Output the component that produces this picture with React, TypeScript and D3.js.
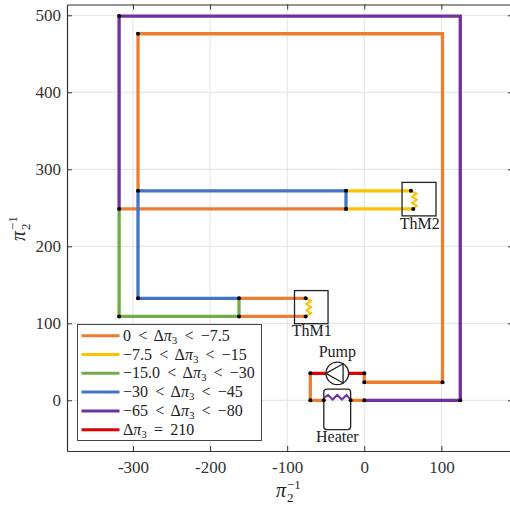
import React, { useRef, useEffect } from 'react'
import { select, scaleLinear, line, axisBottom, axisLeft, axisTop, axisRight } from 'd3'

const SERIF = '"Liberation Serif", serif'

const xTicks = [-300, -200, -100, 0, 100]
const yTicks = [0, 100, 200, 300, 400, 500]

const seriesColors = ['#ED7D31', '#FFC000', '#70AD47', '#4472C4', '#7030A0', '#E00000']

// pipe runs in chart values [x, y]
const orangeRuns = [
  [[-293.5, 272], [-293.5, 476], [101.5, 476], [101.5, 23.5], [0, 23.5], [0, 35]],
  [[-318, 248.5], [-23.7, 248.5]],
  [[-162.5, 132.5], [-76, 132.5]],
  [[-162.5, 109], [-76, 109]],
  [[-70, 35], [-70, 0], [-52.5, 0]],
  [[-17.7, 0], [0, 0]],
]
const yellowRuns = [
  [[-23.7, 272], [60.5, 272]],
  [[-23.7, 248.5], [63.5, 248.5]],
]
const greenRuns = [
  [[-318, 248.5], [-318, 109], [-162.5, 109], [-162.5, 132.5]],
]
const blueRuns = [
  [[-293.5, 272], [-293.5, 132.5], [-162.5, 132.5]],
  [[-293.5, 272], [-23.7, 272], [-23.7, 248.5]],
]
const purpleRuns = [
  [[-318, 248.5], [-318, 499], [124.5, 499], [124.5, 0], [0, 0]],
]
const redRuns = [
  [[-70, 35], [-50, 35]],
  [[-20, 35], [0, 35]],
]
const allRuns = [orangeRuns, yellowRuns, greenRuns, blueRuns, purpleRuns, redRuns]

const junctions = [
  [-318, 499], [-293.5, 476], [-293.5, 272], [-23.7, 272], [-23.7, 248.5], [-318, 248.5],
  [60.5, 272], [63.5, 248.5], [-293.5, 132.5], [-162.5, 132.5], [-162.5, 109], [-318, 109],
  [-76, 132.5], [-76, 109], [-70, 35], [-70, 0], [-52.5, 0], [-17.7, 0], [0, 0], [0, 23.5],
  [0, 35], [101.5, 23.5], [124.5, 0],
]

// schematic parts
const thm1Box = { x0: -90.5, x1: -47, y0: 99.5, y1: 142.5 }
const thm2Box = { x0: 49, x1: 93, y0: 239.5, y1: 283 }
const heaterBox = { x0: -52.5, x1: -17.7, y0: -38, y1: 14.5 }
const thm1Coil = [[-76, 132.5], [-69, 129], [-75, 125], [-69, 121], [-75, 117], [-69, 113], [-76, 109]]
const thm2Coil = [[60.5, 272], [68, 268.5], [62, 264.5], [68, 260.5], [62, 256.5], [68, 252.5], [63.5, 248.5]]
const heaterCoil = [[-52.5, 3], [-47, 7], [-41, 1], [-35, 7], [-29, 1], [-23, 7], [-17.7, 1]]
const pump = { cx: -35, cy: 35, r: 14.7 }
const pumpArrow = [[-49.7, 35], [-27.5, 47.5], [-27.5, 22.5], [-49.7, 35]]

const legendLabels = [
  ['0', '−7.5'],
  ['−7.5', '−15'],
  ['−15.0', '−30'],
  ['−30', '−45'],
  ['−65', '−80'],
]

function App() {
  const svgRef = useRef(null)

  useEffect(() => {
    const svg = select(svgRef.current)
    svg.selectAll('*').remove()

    const left = 67, right = 513, top = 4.5, bottom = 451
    const xScale = scaleLinear().domain([-385.6, 192.9]).range([left, right])
    const yScale = scaleLinear().domain([-65.8, 514]).range([bottom, top])

    const grid = svg.append('g').attr('stroke', '#e2e2e2').attr('stroke-width', 1)
    xTicks.forEach(t => {
      grid.append('line').attr('x1', xScale(t)).attr('x2', xScale(t)).attr('y1', top).attr('y2', bottom)
    })
    yTicks.forEach(t => {
      grid.append('line').attr('y1', yScale(t)).attr('y2', yScale(t)).attr('x1', left).attr('x2', right)
    })

    const styleAxis = (g, fontSize) => {
      g.selectAll('.domain').attr('stroke', '#333').attr('stroke-width', 1.2)
      g.selectAll('line').attr('stroke', '#333').attr('stroke-width', 1)
      g.selectAll('text').attr('font-family', SERIF).attr('font-size', fontSize).attr('fill', '#333')
    }

    const xAxis = axisBottom(xScale).tickValues(xTicks).tickSizeInner(-5).tickSizeOuter(0).tickPadding(9.5).tickFormat(d => String(d))
    svg.append('g').attr('transform', `translate(0,${bottom})`).call(xAxis).call(g => styleAxis(g, 17))
    const yAxis = axisLeft(yScale).tickValues(yTicks).tickSizeInner(-5).tickSizeOuter(0).tickPadding(6).tickFormat(d => String(d))
    svg.append('g').attr('transform', `translate(${left},0)`).call(yAxis).call(g => styleAxis(g, 17))
    svg.append('g').attr('transform', `translate(0,${top})`)
      .call(axisTop(xScale).tickValues(xTicks).tickSizeInner(-5).tickSizeOuter(0).tickFormat(() => ''))
      .call(g => styleAxis(g, 17))
    svg.append('g').attr('transform', `translate(${right},0)`)
      .call(axisRight(yScale).tickValues(yTicks).tickSizeInner(-5).tickSizeOuter(0).tickFormat(() => ''))
      .call(g => styleAxis(g, 17))

    const path = line().x(d => xScale(d[0])).y(d => yScale(d[1]))

    allRuns.forEach((runs, i) => {
      svg.append('g').selectAll('path')
        .data(runs)
        .join('path')
        .attr('d', path)
        .attr('fill', 'none')
        .attr('stroke', seriesColors[i])
        .attr('stroke-width', 3.3)
        .attr('stroke-linejoin', 'miter')
    })

    // component outlines
    const parts = svg.append('g').attr('fill', 'none').attr('stroke', '#222').attr('stroke-width', 1.3)
    ;[thm1Box, thm2Box].forEach(b => {
      parts.append('rect')
        .attr('x', xScale(b.x0)).attr('y', yScale(b.y1))
        .attr('width', xScale(b.x1) - xScale(b.x0)).attr('height', yScale(b.y0) - yScale(b.y1))
    })
    parts.append('rect')
      .attr('x', xScale(heaterBox.x0)).attr('y', yScale(heaterBox.y1))
      .attr('width', xScale(heaterBox.x1) - xScale(heaterBox.x0))
      .attr('height', yScale(heaterBox.y0) - yScale(heaterBox.y1))
      .attr('rx', 3)
    parts.append('circle')
      .attr('cx', xScale(pump.cx)).attr('cy', yScale(pump.cy))
      .attr('r', xScale(pump.r) - xScale(0))
      .attr('fill', '#fff')
    parts.append('path').attr('d', path(pumpArrow))

    ;[[thm1Coil, '#FFC000'], [thm2Coil, '#FFC000'], [heaterCoil, '#7030A0']].forEach(([pts, color]) => {
      svg.append('path').attr('d', path(pts)).attr('fill', 'none').attr('stroke', color).attr('stroke-width', 2)
    })

    svg.append('g').selectAll('circle')
      .data(junctions)
      .join('circle')
      .attr('cx', d => xScale(d[0]))
      .attr('cy', d => yScale(d[1]))
      .attr('r', 2)
      .attr('fill', '#000')

    const label = (text, x, y) => svg.append('text')
      .attr('x', x).attr('y', y).attr('text-anchor', 'middle')
      .attr('font-family', SERIF).attr('font-size', 16).attr('fill', '#222')
      .text(text)
    label('ThM1', xScale(-68), yScale(83.5))
    label('ThM2', xScale(72), yScale(222))
    label('Pump', xScale(-35), yScale(56))
    label('Heater', xScale(-35), yScale(-54))

    // pi_2^-1 axis titles, sub and superscript stacked
    const piLabel = (g) => {
      const part = (text, x, y, size, italic) => g.append('text')
        .attr('x', x).attr('y', y)
        .attr('font-family', SERIF).attr('font-size', size).attr('fill', '#222')
        .attr('font-style', italic ? 'italic' : 'normal')
        .text(text)
      part('π', 0, 0, 20, true)
      part('2', 11, 5, 13, false)
      part('−1', 11, -8.5, 13, false)
    }
    piLabel(svg.append('g').attr('transform', 'translate(276,497)'))
    piLabel(svg.append('g').attr('transform', 'translate(25,241) rotate(-90)'))

    // legend
    const lg = svg.append('g')
    lg.append('rect')
      .attr('x', 77.5).attr('y', 324.5).attr('width', 184).attr('height', 116)
      .attr('fill', '#fff').attr('stroke', '#444').attr('stroke-width', 1)
    const rowY = i => 335.7 + i * 18.8
    seriesColors.forEach((c, i) => {
      lg.append('line').attr('x1', 81.5).attr('x2', 119.5).attr('y1', rowY(i)).attr('y2', rowY(i))
        .attr('stroke', c).attr('stroke-width', 3)
      const t = lg.append('text').attr('x', 123).attr('y', rowY(i) + 5)
        .attr('font-family', SERIF).attr('font-size', 16).attr('fill', '#222')
        .attr('word-spacing', 3.2)
      const pi3 = () => {
        t.append('tspan').text('Δ')
        t.append('tspan').attr('font-style', 'italic').text('π')
        t.append('tspan').attr('font-size', 11).attr('dy', 3).text('3')
      }
      if (i < legendLabels.length) {
        t.append('tspan').text(legendLabels[i][0] + ' < ')
        pi3()
        t.append('tspan').attr('dy', -3).text(' < ' + legendLabels[i][1])
      } else {
        pi3()
        t.append('tspan').attr('dy', -3).text(' = 210')
      }
    })
  }, [])

  return (
    <svg ref={svgRef} width="510" height="507" style={{ position: 'absolute', left: 0, top: 0, background: '#fff' }} />
  )
}

export default App
